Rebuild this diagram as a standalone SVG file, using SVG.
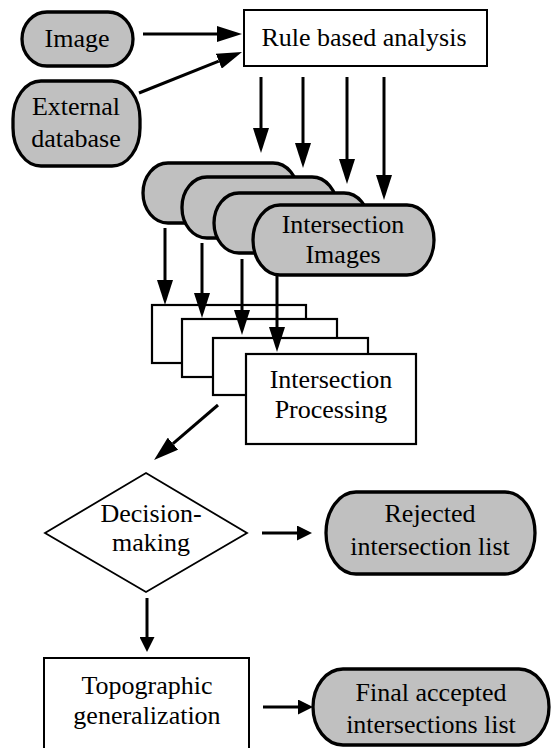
<svg xmlns="http://www.w3.org/2000/svg" width="552" height="748" viewBox="0 0 552 748">
<style>
  .pill { fill: #c0c0c0; stroke: #000; stroke-width: 3.3; }
  .box { fill: #fff; stroke: #000; stroke-width: 2.2; }
  .dia { fill: #fff; stroke: #000; stroke-width: 1.8; }
  .t { font-size: 26px; fill: #000; text-anchor: middle; }
  .c { stroke: #000; stroke-width: 3; fill: none; }
  .cl { marker-end: url(#ah-l); }
  .cs { marker-end: url(#ah-s); }
</style>
<defs>
  <marker id="ah-l" markerUnits="userSpaceOnUse" markerWidth="25" markerHeight="16" viewBox="0 0 25 16" refX="0" refY="8" orient="auto">
    <path d="M0,0 L25,8 L0,16 Z" fill="#000"/>
  </marker>
  <marker id="ah-s" markerUnits="userSpaceOnUse" markerWidth="15" markerHeight="15" viewBox="0 0 15 15" refX="0" refY="7.5" orient="auto">
    <path d="M0,0 L15,7.5 L0,15 Z" fill="#000"/>
  </marker>
</defs>

<g font-family="'Liberation Serif', 'DejaVu Serif', serif">
<g id="image">
  <rect class="pill" x="22" y="12" width="111" height="54" rx="25" ry="27"/>
  <text class="t" x="77" y="47">Image</text>
</g>
<g id="external-database">
  <rect class="pill" x="13" y="81" width="127" height="85" rx="28" ry="38"/>
  <text class="t" x="76" y="115">External</text>
  <text class="t" x="76" y="147">database</text>
</g>
<g id="rule-based-analysis">
  <rect class="box" x="244" y="10" width="243" height="56" style="stroke-width:2"/>
  <text class="t" x="364" y="46">Rule based analysis</text>
</g>

<g id="intersection-images-1">
  <rect class="pill" x="143" y="163" width="155" height="60" rx="25" ry="30"/>
</g>
<g id="intersection-images-2">
  <rect class="pill" x="182" y="177" width="155" height="61" rx="25" ry="30"/>
</g>
<g id="intersection-images-3">
  <rect class="pill" x="214" y="193" width="155" height="60" rx="25" ry="30"/>
</g>
<g id="intersection-images">
  <rect class="pill" x="253" y="205" width="181" height="70" rx="27" ry="35"/>
  <text class="t" x="343" y="233">Intersection</text>
  <text class="t" x="343" y="263">Images</text>
</g>

<g id="intersection-processing-1">
  <rect class="box" x="152" y="305" width="154" height="58"/>
</g>
<g id="intersection-processing-2">
  <rect class="box" x="182" y="319" width="155" height="58"/>
</g>
<g id="intersection-processing-3">
  <rect class="box" x="213" y="338" width="155" height="57"/>
</g>
<g id="intersection-processing">
  <rect class="box" x="246" y="354" width="170" height="90"/>
  <text class="t" x="331" y="388">Intersection</text>
  <text class="t" x="331" y="418">Processing</text>
</g>

<g id="decision-making">
  <polygon class="dia" points="146,473 247,533 146,592 45,533"/>
  <text class="t" x="151" y="522">Decision-</text>
  <text class="t" x="151" y="551">making</text>
</g>
<g id="rejected-intersection-list">
  <rect class="pill" x="326" y="492" width="209" height="82" rx="30" ry="41"/>
  <text class="t" x="430" y="522">Rejected</text>
  <text class="t" x="430" y="555">intersection list</text>
</g>
<g id="topographic-generalization">
  <rect class="box" x="44" y="658" width="205" height="102" style="stroke-width:2"/>
  <text class="t" x="147" y="694">Topographic</text>
  <text class="t" x="147" y="724">generalization</text>
</g>
<g id="final-accepted-intersections-list">
  <rect class="pill" x="313" y="669" width="236" height="76" rx="30" ry="38"/>
  <text class="t" x="431" y="701">Final accepted</text>
  <text class="t" x="431" y="733">intersections list</text>
</g>
</g>

<g id="connectors">
  <line class="c cl" x1="143" y1="34" x2="217" y2="34"/>
  <line class="c cl" x1="139" y1="93" x2="218.8" y2="61.2"/>
  <line class="c cl" x1="261" y1="77" x2="261" y2="128"/>
  <line class="c cl" x1="303" y1="77" x2="303" y2="143"/>
  <line class="c cl" x1="347" y1="77" x2="347" y2="159"/>
  <line class="c cl" x1="384" y1="77" x2="384" y2="175"/>
  <line class="c cl" x1="165" y1="228" x2="165" y2="280"/>
  <line class="c cl" x1="202" y1="243" x2="202" y2="293"/>
  <line class="c cl" x1="242" y1="259" x2="242" y2="310"/>
  <line class="c cl" x1="277" y1="275" x2="277" y2="327"/>
  <line class="c cl" x1="218" y1="405" x2="173" y2="443.7"/>
  <line class="c cs" x1="262" y1="533" x2="297" y2="533"/>
  <line class="c cs" x1="147" y1="598" x2="147" y2="637"/>
  <line class="c cs" x1="263" y1="707" x2="298" y2="707"/>
</g>
</svg>
